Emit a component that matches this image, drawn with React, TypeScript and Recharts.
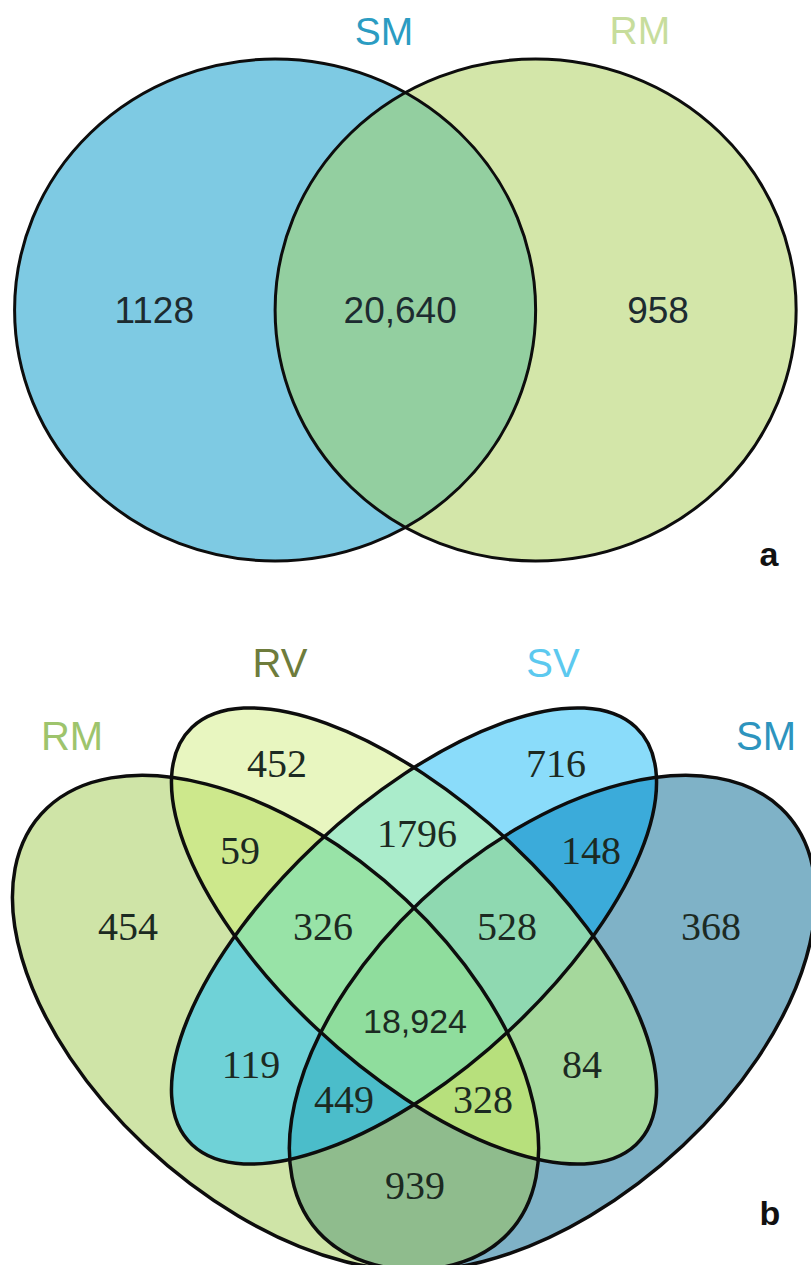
import React from "react";
import { ScatterChart, Scatter, XAxis, YAxis } from "recharts";

// ---------- panel a: two sets ----------
const SETS_A = ["SM", "RM"];
const REGIONS_A = ["SM", "RM", "SM&RM"];
const COUNTS_A = [1128, 958, 20640];

// ---------- panel b: four sets ----------
const SETS_B = ["RM", "RV", "SV", "SM"];
const REGIONS_B = [
  "RM", "RV", "SV", "SM",
  "RM&RV", "RM&SV", "RM&SM", "RV&SV", "RV&SM", "SV&SM",
  "RM&RV&SV", "RM&RV&SM", "RM&SV&SM", "RV&SV&SM",
  "RM&RV&SV&SM",
];
const COUNTS_B = [454, 452, 716, 368, 59, 119, 939, 1796, 84, 148, 326, 328, 449, 528, 18924];

type Ell = { cx: number; cy: number; rx: number; ry: number; rot: number };

// layout (chart units, y up)
const A_W = 811, A_H = 620;
const A_XDOM: [number, number] = [-1.556, 1.557];
const A_YDOM: [number, number] = [-1.235, 1.235];
const GEO_A: Record<string, Ell> = {
  SM: { cx: -0.5, cy: 0, rx: 1, ry: 1, rot: 0 },
  RM: { cx: 0.5, cy: 0, rx: 1, ry: 1, rot: 0 },
};
const LABEL_POS_A: Record<string, [number, number]> = {
  SM: [-0.964, 0], RM: [0.97, 0], "SM&RM": [-0.02, 0],
};
const TITLE_POS_A: Record<string, [number, number]> = { SM: [-0.082, 1.112], RM: [0.9, 1.115] };
const TAG_POS_A: [number, number] = [1.396, -0.982];

const B_W = 811, B_H = 645;
const B_XDOM: [number, number] = [0.05146, 0.93012];
const B_YDOM: [number, number] = [0.19097, 0.93406];
const GEO_B: Record<string, Ell> = {
  RM: { cx: 0.35, cy: 0.47, rx: 0.35, ry: 0.2, rot: 45 },
  RV: { cx: 0.5, cy: 0.57, rx: 0.34, ry: 0.15, rot: 45 },
  SV: { cx: 0.5, cy: 0.57, rx: 0.34, ry: 0.15, rot: -45 },
  SM: { cx: 0.65, cy: 0.47, rx: 0.35, ry: 0.2, rot: -45 },
};
const LABEL_POS_B: Record<string, [number, number]> = {
  RM: [0.1901, 0.5809], RV: [0.3516, 0.7687], SV: [0.6538, 0.7687], SM: [0.8218, 0.5809],
  "RM&RV": [0.3115, 0.6685], "RM&SV": [0.3234, 0.422], "RM&SM": [0.5011, 0.2826],
  "RV&SV": [0.5033, 0.6881], "RV&SM": [0.682, 0.422], "SV&SM": [0.6918, 0.6685],
  "RM&RV&SV": [0.4014, 0.5809], "RM&RV&SM": [0.5748, 0.3816], "RM&SV&SM": [0.4242, 0.3816],
  "RV&SV&SM": [0.6008, 0.5809], "RM&RV&SV&SM": [0.5011, 0.4727],
};
const TITLE_POS_B: Record<string, [number, number]> = {
  RM: [0.1295, 0.8004], RV: [0.3548, 0.8845], SV: [0.6506, 0.8845], SM: [0.8814, 0.8004],
};
const TAG_POS_B: [number, number] = [0.8857, 0.2509];

// styles
const FILL_A: Record<string, string> = { SM: "#7ecae3", RM: "#d3e6a9", "SM&RM": "#93cfa0" };
const TITLE_COLOR_A: Record<string, string> = { SM: "#2b9cc2", RM: "#c7dd9c" };
const FILL_B: Record<string, string> = {
  RM: "#cfe4a7", RV: "#e8f6c0", SV: "#8adcfa", SM: "#7fb2c7",
  "RM&RV": "#cde88c", "RM&SV": "#6fd2d7", "RM&SM": "#8fbc8d",
  "RV&SV": "#aaeccb", "RV&SM": "#a5d89c", "SV&SM": "#3babda",
  "RM&RV&SV": "#98e3a7", "RM&RV&SM": "#b7e07c", "RM&SV&SM": "#4bbdca",
  "RV&SV&SM": "#8fd9b1", "RM&RV&SV&SM": "#8fdd9d",
};
const TITLE_COLOR_B: Record<string, string> = { RM: "#9ec46c", RV: "#6e7c3c", SV: "#5cc9ef", SM: "#2d94be" };

const SANS = "'Liberation Sans', Arial, sans-serif";
const SERIF = "'Liberation Serif', 'Times New Roman', serif";

const fmt = (n: number) => (n >= 10000 ? n.toLocaleString("en-US") : String(n));

function buildLayers(keys: string[], geo: Record<string, Ell>, fills: Record<string, string>) {
  return [...keys]
    .sort((p, q) => p.split("&").length - q.split("&").length)
    .map((key) => {
      const sets = key.split("&");
      const set = sets[sets.length - 1];
      return { x: geo[set].cx, y: geo[set].cy, set, clips: sets.slice(0, -1), fill: fills[key] };
    });
}

// ellipse radii are in chart units; the transform maps them to pixels with the axis scale factors
const ellTransform = (cx: number, cy: number, e: Ell, k: { x: number; y: number }) =>
  `translate(${cx} ${cy}) scale(${k.x} ${k.y}) rotate(${e.rot})`;

function layerShape(prefix: string, geo: Record<string, Ell>, k: { x: number; y: number }) {
  return (props: any) => {
    const { cx, cy, payload } = props;
    const e = geo[payload.set];
    const tr = ellTransform(cx, cy, e, k);
    let node: React.ReactElement = <ellipse cx={0} cy={0} rx={e.rx} ry={e.ry} transform={tr} fill={payload.fill} />;
    for (const c of payload.clips) node = <g clipPath={`url(#${prefix}-${c})`}>{node}</g>;
    return (
      <g>
        {payload.clips.length === 0 && (
          <defs>
            <clipPath id={`${prefix}-${payload.set}`}>
              <ellipse cx={0} cy={0} rx={e.rx} ry={e.ry} transform={tr} />
            </clipPath>
          </defs>
        )}
        {node}
      </g>
    );
  };
}

function outlineShape(geo: Record<string, Ell>, k: { x: number; y: number }, sw: number) {
  return (props: any) => {
    const { cx, cy, payload } = props;
    const e = geo[payload.set];
    return (
      <ellipse cx={0} cy={0} rx={e.rx} ry={e.ry} transform={ellTransform(cx, cy, e, k)}
        fill="none" stroke="#0d0d0d" strokeWidth={sw} vectorEffect="non-scaling-stroke" />
    );
  };
}

const textShape = (props: any) => {
  const { cx, cy, payload } = props;
  return (
    <text x={cx} y={cy + payload.size * payload.shift} textAnchor="middle" fontFamily={payload.font}
      fontSize={payload.size} fontWeight={payload.weight || "normal"} fill={payload.color}>
      {payload.text}
    </text>
  );
};

function Panel({ w, h, xdom, ydom, children }: any) {
  return (
    <ScatterChart width={w} height={h} margin={{ top: 0, right: 0, bottom: 0, left: 0 }}>
      <XAxis type="number" dataKey="x" domain={xdom} hide allowDataOverflow />
      <YAxis type="number" dataKey="y" domain={ydom} hide allowDataOverflow />
      {children}
    </ScatterChart>
  );
}

export default function App() {
  const kA = { x: A_W / (A_XDOM[1] - A_XDOM[0]), y: A_H / (A_YDOM[1] - A_YDOM[0]) };
  const kB = { x: B_W / (B_XDOM[1] - B_XDOM[0]), y: B_H / (B_YDOM[1] - B_YDOM[0]) };

  const layersA = buildLayers(REGIONS_A, GEO_A, FILL_A);
  const layersB = buildLayers(REGIONS_B, GEO_B, FILL_B);
  const outlinesA = SETS_A.map((s) => ({ x: GEO_A[s].cx, y: GEO_A[s].cy, set: s }));
  const outlinesB = SETS_B.map((s) => ({ x: GEO_B[s].cx, y: GEO_B[s].cy, set: s }));

  const textA = [
    ...REGIONS_A.map((r, i) => ({
      x: LABEL_POS_A[r][0], y: LABEL_POS_A[r][1], text: fmt(COUNTS_A[i]),
      font: SANS, size: 37, shift: 0.36, color: "#1d2b30",
    })),
    ...SETS_A.map((s) => ({
      x: TITLE_POS_A[s][0], y: TITLE_POS_A[s][1], text: s,
      font: SANS, size: 39, shift: 0.36, color: TITLE_COLOR_A[s],
    })),
    { x: TAG_POS_A[0], y: TAG_POS_A[1], text: "a", font: SANS, size: 34, shift: 0.27, color: "#111", weight: "bold" },
  ];

  const textB = [
    ...REGIONS_B.map((r, i) => {
      const big = COUNTS_B[i] >= 10000;
      return {
        x: LABEL_POS_B[r][0], y: LABEL_POS_B[r][1], text: fmt(COUNTS_B[i]),
        font: big ? SANS : SERIF, size: big ? 34 : 40, shift: big ? 0.36 : 0.34, color: "#1c2a22",
      };
    }),
    ...SETS_B.map((s) => ({
      x: TITLE_POS_B[s][0], y: TITLE_POS_B[s][1], text: s,
      font: SANS, size: 40, shift: 0.36, color: TITLE_COLOR_B[s],
    })),
    { x: TAG_POS_B[0], y: TAG_POS_B[1], text: "b", font: SANS, size: 34, shift: 0.36, color: "#111", weight: "bold" },
  ];

  return (
    <div style={{ position: "absolute", left: 0, top: 0, width: 811, height: 1265, background: "#fff" }}>
      <Panel w={A_W} h={A_H} xdom={A_XDOM} ydom={A_YDOM}>
        <Scatter data={layersA} shape={layerShape("va", GEO_A, kA)} isAnimationActive={false} legendType="none" />
        <Scatter data={outlinesA} shape={outlineShape(GEO_A, kA, 3)} isAnimationActive={false} legendType="none" />
        <Scatter data={textA} shape={textShape} isAnimationActive={false} legendType="none" />
      </Panel>
      <Panel w={B_W} h={B_H} xdom={B_XDOM} ydom={B_YDOM}>
        <Scatter data={layersB} shape={layerShape("vb", GEO_B, kB)} isAnimationActive={false} legendType="none" />
        <Scatter data={outlinesB} shape={outlineShape(GEO_B, kB, 3.5)} isAnimationActive={false} legendType="none" />
        <Scatter data={textB} shape={textShape} isAnimationActive={false} legendType="none" />
      </Panel>
    </div>
  );
}
